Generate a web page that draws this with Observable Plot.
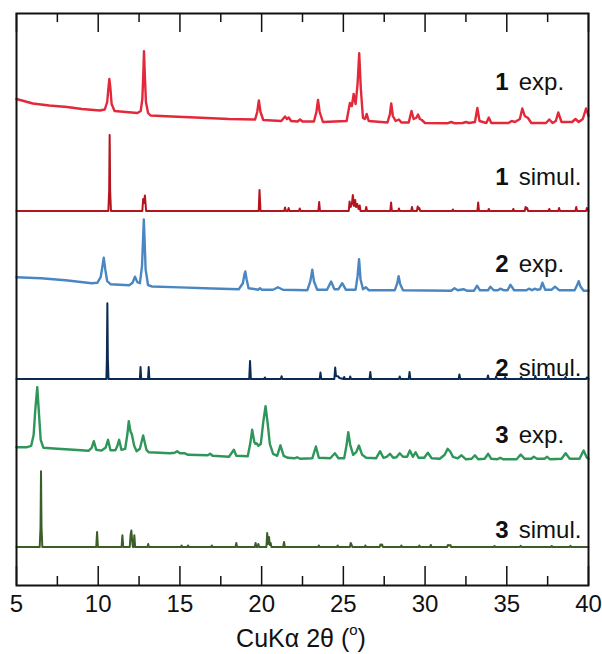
<!DOCTYPE html>
<html>
<head>
<meta charset="utf-8">
<script src="https://cdn.jsdelivr.net/npm/d3@7"></script>
<script src="https://cdn.jsdelivr.net/npm/@observablehq/plot@0.6"></script>
<style>
  html, body { margin: 0; padding: 0; background: #fff; }
  #wrap { width: 602px; font-family: "Liberation Sans", Arial, Helvetica, sans-serif; }
  #xlabel { width: 602px; height: 32px; line-height: 32px; text-align: center; font-size: 25px; color: #111; }
  #xlabel sup { font-size: 0.6em; line-height: 0; vertical-align: 0.8em; }
</style>
</head>
<body>
<div id="wrap"></div>
<script>
// ---- Data (2θ in degrees, intensity in arbitrary units) ----
const seriesNames = ["1 exp.", "1 simul.", "2 exp.", "2 simul.", "3 exp.", "3 simul."];
const seriesOffsets = [461.5, 374.5, 294.3, 206.5, 125.7, 38.5];
const labelLevels = [496, 401, 314, 210, 143, 48];
const seriesColors = ["#e3283a", "#b5141e", "#4a87c2", "#0c2b53", "#2f965a", "#3b5e28"];
const seriesWidths = [2.4, 2, 2.4, 2, 2.4, 2];
const xTicksMajor = [5, 10, 15, 20, 25, 30, 35, 40];
const xTicksMinor = [7.5, 12.5, 17.5, 22.5, 27.5, 32.5, 37.5];

const exp1 = [[5.0,25],[6.0,20.5],[7.0,18.5],[8.1,17],[9.0,15],[10.1,13.5],[10.4,14.5],[10.55,22],[10.62,35],[10.68,45],[10.75,35],[10.82,20],[11.0,13],[12.4,11],[12.6,13],[12.7,25],[12.76,50],[12.8,72.8],[12.85,50],[12.92,22],[13.05,11],[13.2,8.5],[14.5,7.5],[16.3,6.2],[18,5],[19.6,4.5],[19.73,12],[19.83,23.5],[19.93,12],[20.1,4],[21.2,3],[21.43,7.5],[21.55,5],[21.66,6.5],[21.8,3],[22.2,2.5],[22.35,4.5],[22.5,2.5],[23.2,2.5],[23.35,12],[23.45,24],[23.55,12],[23.75,2],[25.2,3],[25.4,21],[25.52,18],[25.63,30],[25.75,20],[25.87,40],[25.97,70.8],[26.07,35],[26.2,6],[26.32,5],[26.43,10],[26.55,3],[27.7,1.5],[27.85,10],[27.93,20.5],[28.03,8],[28.2,3],[28.4,4.5],[28.55,1.5],[29.0,1.5],[29.17,13],[29.3,5],[29.45,6],[29.57,9.5],[29.68,5],[29.8,4],[30,1],[31.4,0.8],[31.6,2],[31.8,0.8],[32.3,1],[32.5,2],[32.7,1],[33.05,2],[33.2,16],[33.33,3],[33.75,1],[33.9,6.5],[34.05,1],[35.1,1],[35.3,3],[35.5,2],[35.8,5],[35.95,15.5],[36.1,8],[36.3,6],[36.5,1],[37.4,1],[37.6,4.5],[37.8,1],[38.0,3],[38.15,11.5],[38.35,2],[39.0,2],[39.2,5],[39.4,2],[39.65,5],[39.85,15.5],[40.0,8]];

const sim1 = [[5,0],[10.62,0],[10.67,20],[10.7,76],[10.73,20],[10.78,0],[12.7,0],[12.75,12],[12.8,8],[12.86,15.5],[12.93,0],[19.82,0],[19.87,21],[19.93,0],[21.38,0],[21.43,3.5],[21.48,0],[21.6,0],[21.65,3],[21.7,0],[22.28,0],[22.33,2.5],[22.38,0],[23.47,0],[23.52,9],[23.57,0],[25.33,0],[25.38,9.5],[25.45,4],[25.52,7],[25.58,16],[25.65,5],[25.72,11],[25.78,4],[25.85,7],[25.93,2],[26.0,5.5],[26.05,0],[26.35,0],[26.4,4],[26.45,0],[27.87,0],[27.92,8.5],[27.97,0],[28.35,0],[28.4,2.5],[28.45,0],[29.15,0],[29.2,4],[29.25,0],[29.5,0],[29.55,4.5],[29.6,2],[29.65,3],[29.7,0],[31.65,0],[31.7,1.5],[31.75,0],[33.2,0],[33.25,8.5],[33.3,0],[33.85,0],[33.9,2],[33.95,0],[35.35,0],[35.4,2],[35.45,0],[36.1,0],[36.15,4],[36.2,2],[36.25,3],[36.3,0],[37.55,0],[37.6,2],[37.65,0],[38.15,0],[38.2,3],[38.25,0],[39.2,0],[39.25,4],[39.3,0],[39.85,0],[39.9,3],[40,0]];

const exp2 = [[5,14],[6.5,13],[8,11],[9.6,8],[9.95,8.5],[10.15,14],[10.25,24],[10.34,33.4],[10.43,22],[10.55,10],[10.75,7],[11.9,6],[12.1,8.5],[12.25,14.5],[12.4,9],[12.55,8],[12.68,25],[12.74,50],[12.79,71.7],[12.84,50],[12.9,22],[13.05,6],[13.3,4.7],[15,3.8],[17,2.7],[18.6,2],[18.85,8],[18.95,17],[19.0,19.7],[19.08,12],[19.2,3],[19.8,1.5],[19.9,3],[20.0,1.5],[20.7,1.5],[21.0,4],[21.3,1.5],[22.8,1],[22.98,10],[23.1,21.4],[23.2,10],[23.4,1.5],[24.0,1.5],[24.25,9.7],[24.45,2],[24.7,2],[24.93,8],[25.15,1.5],[25.75,1.5],[25.87,15],[25.96,32],[26.05,12],[26.2,2],[26.37,4],[26.55,1],[28.15,1],[28.3,8],[28.38,15],[28.48,7],[28.65,1],[31.6,0.5],[31.8,3],[32.0,1],[32.35,2],[32.55,0.5],[33.0,0.5],[33.18,5.5],[33.35,1],[33.85,1],[34.0,4.5],[34.2,1],[34.45,1],[34.6,2.5],[34.8,1],[35.05,1],[35.22,6.5],[35.45,1],[36.2,1],[36.35,2.5],[36.55,1],[36.7,2.5],[36.85,1.5],[37.05,2],[37.18,8.5],[37.35,1.5],[37.75,1.5],[37.95,4.5],[38.2,1],[39.15,1],[39.3,6],[39.4,10],[39.5,5],[39.7,0.5],[40,0.5]];

const sim2 = [[5,0],[10.5,0],[10.53,20],[10.56,75.8],[10.59,20],[10.63,0],[12.55,0],[12.59,12],[12.63,0],[13.05,0],[13.09,12],[13.13,0],[19.24,0],[19.29,18],[19.34,0],[20.15,0],[20.2,1.5],[20.25,0],[21.17,0],[21.22,2.7],[21.27,0],[23.55,0],[23.6,6.5],[23.65,0],[24.45,0],[24.5,11.5],[24.55,3],[24.7,2.5],[24.75,1],[25.0,0],[25.05,2],[25.1,0],[25.38,0],[25.42,2.5],[25.47,0],[26.6,0],[26.65,7],[26.7,0],[28.4,0],[28.45,2.5],[28.5,0],[29.0,0],[29.05,7],[29.1,0],[32.05,0],[32.1,4.5],[32.15,0],[33.8,0],[33.85,3.5],[33.9,0],[34.3,0],[34.35,2.5],[34.4,0],[34.85,0],[34.9,2],[34.95,0],[35.83,0],[35.88,2],[35.93,0],[36.7,0],[36.75,3],[36.8,0],[37.5,0],[37.55,3],[37.6,0],[38.55,0],[38.6,2],[38.65,0],[39.85,0],[39.9,1.5],[40,0]];

const exp3 = [[5,12.5],[5.6,12.5],[5.9,14],[6.05,25],[6.15,50],[6.27,72.6],[6.38,45],[6.48,20],[6.65,12],[7.5,11],[8.5,10],[9.4,9],[9.6,12],[9.73,18.6],[9.88,10],[10.2,9.2],[10.45,12],[10.6,20],[10.75,9.5],[11.05,9.5],[11.15,13],[11.28,20],[11.42,10],[11.65,11],[11.78,25],[11.87,38.6],[11.98,28],[12.05,26],[12.2,14],[12.35,8.5],[12.55,11],[12.75,24.3],[12.95,10],[13.1,7.5],[14.4,6.5],[14.68,7],[14.83,8.5],[15.0,6.5],[15.3,6.5],[15.5,5],[16.7,4.5],[16.85,6],[17.0,4],[18.0,3],[18.3,10],[18.45,4],[19.15,3.5],[19.3,16],[19.42,30],[19.55,18],[19.62,16],[19.7,16.5],[19.8,14],[19.95,16],[20.1,38],[20.24,53.6],[20.38,35],[20.5,16],[20.7,6],[20.95,4],[21.15,14.5],[21.35,4],[21.6,2],[22.0,1.5],[22.17,2.5],[22.35,1],[23.1,1.5],[23.32,13.3],[23.5,2],[24.2,1.5],[24.48,6.6],[24.7,1.5],[25.05,1.5],[25.2,15],[25.3,27.6],[25.42,15],[25.6,5],[25.8,8],[25.95,14.3],[26.15,5],[26.4,2],[27.0,1.5],[27.25,8.6],[27.45,2],[27.65,3],[27.85,6],[28.05,2],[28.25,2.5],[28.45,6.5],[28.65,3],[28.9,3],[29.07,9.3],[29.25,3],[29.42,7.5],[29.6,2],[29.95,2],[30.17,7],[30.4,1.5],[30.9,1],[31.2,5],[31.38,11],[31.55,8],[31.7,3],[32.0,1.5],[32.23,4.5],[32.5,0.5],[32.85,1],[33.05,4.5],[33.25,0.5],[33.65,1],[33.86,6],[34.05,1],[34.4,0.5],[34.6,2],[34.8,0.5],[35.6,0.5],[35.85,5.3],[36.1,1],[36.5,1],[36.65,3],[36.85,1],[37.3,1],[37.47,3],[37.65,0.5],[38.35,1],[38.6,6.6],[38.85,1],[39.45,1],[39.7,9.3],[39.9,2],[40,1]];

const sim3 = [[5,0],[6.42,0],[6.47,20],[6.5,75.8],[6.53,20],[6.58,0],[9.88,0],[9.93,15],[9.98,0],[11.43,0],[11.48,11.7],[11.53,0],[11.93,0],[11.98,12],[12.03,16.5],[12.08,6],[12.12,0],[12.17,0],[12.21,11.7],[12.26,0],[13.02,0],[13.06,3],[13.1,0],[15.05,0],[15.1,1.5],[15.15,0],[15.45,0],[15.5,1.5],[15.55,0],[16.9,0],[16.95,1.5],[17.0,0],[18.4,0],[18.45,4],[18.5,0],[19.58,0],[19.63,4],[19.68,0],[19.75,0],[19.8,3],[19.85,0],[20.29,0],[20.34,14],[20.39,3],[20.45,10],[20.5,2],[20.55,4],[20.6,0],[21.32,0],[21.37,5],[21.42,0],[23.45,0],[23.5,1.5],[23.55,0],[24.6,0],[24.65,1.5],[24.7,0],[25.4,0],[25.45,4],[25.5,2.5],[25.55,0],[26.3,0],[26.35,1.5],[26.4,0],[27.22,0],[27.27,2.5],[27.32,1.5],[27.37,2.5],[27.42,0],[28.5,0],[28.55,1.5],[28.6,0],[29.6,0],[29.65,1.5],[29.7,0],[30.3,0],[30.35,2],[30.4,0],[31.35,0],[31.4,2],[31.5,1.5],[31.55,2],[31.6,0],[34.2,0],[34.25,1],[34.3,0],[35.8,0],[35.85,1.2],[35.9,0],[37.7,0],[37.75,1],[37.8,0],[38.85,0],[38.9,1.2],[38.95,0],[40,0]];

const patterns = [exp1, sim1, exp2, sim2, exp3, sim3];

// ---- Build tables ----
const lineMarks = patterns.map((pts, i) =>
  Plot.lineY(pts.map(([t, v]) => ({t, v: v + seriesOffsets[i]})), {
    x: "t", y: "v", stroke: seriesColors[i], strokeWidth: seriesWidths[i], strokeLinejoin: "round"
  })
);
const labels = seriesNames.map((name, i) => ({name, level: labelLevels[i]}));
const yMax = 572;

const chart = Plot.plot({
  width: 602,
  height: 622,
  marginTop: 13,
  marginBottom: 37,
  marginLeft: 16,
  marginRight: 14,
  style: {fontFamily: "'Liberation Sans', Arial, Helvetica, sans-serif", color: "#111", background: "#fff", overflow: "visible"},
  x: {domain: [5, 40]},
  y: {domain: [0, yMax], axis: null},
  marks: [
    ...lineMarks,
    Plot.ruleX(xTicksMajor, {y1: 0, y2: 19, stroke: "#111", strokeWidth: 1.5}),
    Plot.ruleX(xTicksMajor, {y1: yMax - 19, y2: yMax, stroke: "#111", strokeWidth: 1.5}),
    Plot.ruleX(xTicksMinor, {y1: 0, y2: 9, stroke: "#111", strokeWidth: 1.5}),
    Plot.ruleX(xTicksMinor, {y1: yMax - 9, y2: yMax, stroke: "#111", strokeWidth: 1.5}),
    Plot.frame({stroke: "#111", strokeWidth: 2}),
    Plot.axisX({ticks: xTicksMajor, tickSize: 0, tickPadding: 9, fontSize: 24, label: null, tickFormat: d => String(d)}),
    Plot.text(labels, {x: 34.3, y: "level", text: "name", textAnchor: "start", lineAnchor: "bottom", fontSize: 24, fill: "#111", className: "slabel"})
  ]
});

d3.select(chart).selectAll(".slabel text").each(function() {
  const t = this.textContent;
  const sp = t.indexOf(" ");
  const num = t.slice(0, sp), rest = t.slice(sp + 1);
  const sel = d3.select(this);
  sel.text(null);
  sel.append("tspan").attr("font-weight", "bold").text(num);
  sel.append("tspan").attr("dx", 10).text(rest);
});

const wrap = document.getElementById("wrap");
wrap.appendChild(chart);
const xl = document.createElement("div");
xl.id = "xlabel";
xl.innerHTML = "CuKα 2θ (<sup>o</sup>)";
wrap.appendChild(xl);
</script>
</body>
</html>
